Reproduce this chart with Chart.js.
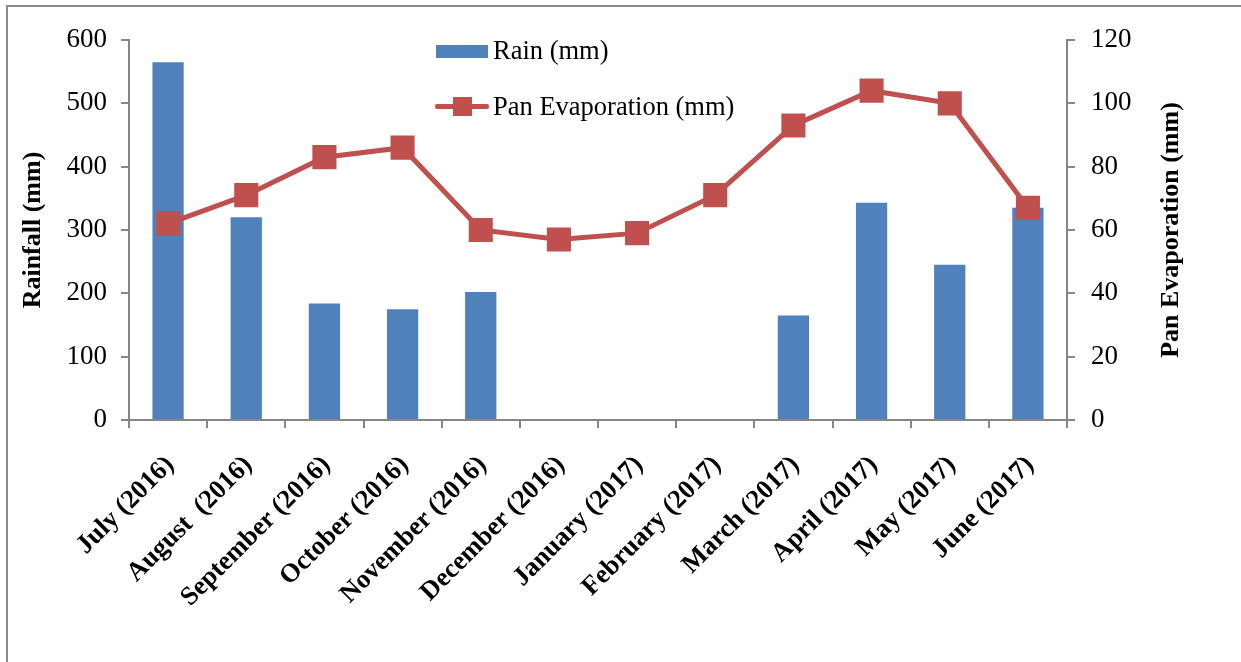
<!DOCTYPE html>
<html>
<head>
<meta charset="utf-8">
<script src="https://cdn.jsdelivr.net/npm/chart.js@4/dist/chart.umd.min.js"></script>
<style>
  body { margin: 0; background: #fff; overflow: hidden; }
  #wrap { position: relative; width: 1241px; height: 662px; }
  #frame { position: absolute; left: 6px; top: 5px; width: 1400px; height: 800px; border: 2px solid #8c8c8c; }
  #legend { position: absolute; left: 434px; top: 35px; font-family: "Liberation Serif", serif; font-size: 26.5px; color: #000; }
  .sw-bar { position: absolute; left: 2px; top: 10px; width: 52px; height: 13px; background: #4F81BD; }
  .sw-line { position: absolute; left: 1px; top: 69px; width: 54px; height: 5px; background: #C0504D; border-radius: 2px; }
  .sw-pt { position: absolute; left: 19px; top: 62px; width: 19px; height: 19px; background: #C0504D; }
  .lbl { position: absolute; left: 59px; white-space: nowrap; }
</style>
</head>
<body>
<div id="wrap">
  <div id="frame"></div>
  <canvas id="chart"></canvas>
  <div id="legend">
    <div class="sw-bar"></div><span class="lbl" style="top:0px">Rain (mm)</span>
    <div class="sw-line"></div><div class="sw-pt"></div><span class="lbl" style="top:56px">Pan Evaporation (mm)</span>
  </div>
</div>
<script>
const months = ["July (2016)", "August  (2016)", "September (2016)", "October (2016)", "November (2016)",
  "December (2016)", "January (2017)", "February (2017)", "March (2017)", "April (2017)", "May (2017)", "June (2017)"];
const rain = [565, 320, 184, 175, 202, 0, 0, 0, 165, 343, 245, 335];
const evaporation = [62, 71, 83, 86, 60, 57, 59, 71, 93, 104, 100, 67];

const serif = "'Liberation Serif', 'Times New Roman', serif";
const axisGrey = "#868686";

// month labels and right title drawn by hand:
// the right title reads bottom-to-top, Chart.js would turn it the other way
const axisText = {
  id: "axisText",
  afterDraw(chart) {
    const ctx = chart.ctx;
    const x = chart.scales.x;
    const s = chart.scales.y2;
    ctx.save();
    ctx.fillStyle = "#000";

    ctx.font = "bold 26.5px " + serif;
    ctx.textAlign = "right";
    ctx.textBaseline = "middle";
    months.forEach((m, i) => {
      ctx.save();
      ctx.translate(x.getPixelForValue(i) + 2, x.top + 41);
      ctx.rotate(-Math.PI / 4);
      ctx.fillText(m, 0, 0);
      ctx.restore();
    });

    ctx.translate(s.right - 70, (chart.chartArea.top + chart.chartArea.bottom) / 2);
    ctx.rotate(-Math.PI / 2);
    ctx.font = "bold 26px " + serif;
    ctx.textAlign = "center";
    ctx.fillText("Pan Evaporation (mm)", 0, 0);
    ctx.restore();
  },
};

new Chart(document.getElementById("chart"), {
  data: {
    labels: months,
    datasets: [
      {
        type: "line",
        label: "Pan Evaporation (mm)",
        data: evaporation,
        yAxisID: "y2",
        borderColor: "#C0504D",
        backgroundColor: "#C0504D",
        borderWidth: 5,
        pointStyle: "rect",
        pointRadius: 13.5,
        pointHoverRadius: 13.5,
        tension: 0,
        order: 0,
      },
      {
        type: "bar",
        label: "Rain (mm)",
        data: rain,
        yAxisID: "y",
        backgroundColor: "#4F81BD",
        barPercentage: 0.4,
        categoryPercentage: 1,
        order: 1,
      },
    ],
  },
  options: {
    responsive: true,
    maintainAspectRatio: false,
    animation: false,
    layout: { padding: { top: 40, left: 0, right: 0, bottom: 0 } },
    plugins: { legend: { display: false }, tooltip: { enabled: false } },
    scales: {
      x: {
        offset: true,
        grid: { offset: true, drawOnChartArea: false, color: axisGrey, tickLength: 8, lineWidth: 2 },
        border: { color: axisGrey, width: 2 },
        ticks: { display: false },
        afterFit: (s) => { s.height = 242; },
      },
      y: {
        position: "left",
        min: 0,
        max: 600,
        ticks: { stepSize: 100, color: "#000", padding: 14, font: { family: serif, size: 27 } },
        grid: { drawOnChartArea: false, color: axisGrey, tickLength: 8, lineWidth: 2 },
        border: { color: axisGrey, width: 2 },
        title: {
          display: true,
          text: "Rainfall (mm)",
          color: "#000",
          padding: { top: 18, bottom: 0 },
          font: { family: serif, size: 26, weight: "bold" },
        },
        afterFit: (s) => { s.width = 129; },
      },
      y2: {
        position: "right",
        min: 0,
        max: 120,
        ticks: { stepSize: 20, color: "#000", padding: 16, font: { family: serif, size: 27 } },
        grid: { drawOnChartArea: false, color: axisGrey, tickLength: 8, lineWidth: 2 },
        border: { color: axisGrey, width: 2 },
        afterFit: (s) => { s.width = 174; },
      },
    },
  },
  plugins: [axisText],
});
</script>
</body>
</html>
